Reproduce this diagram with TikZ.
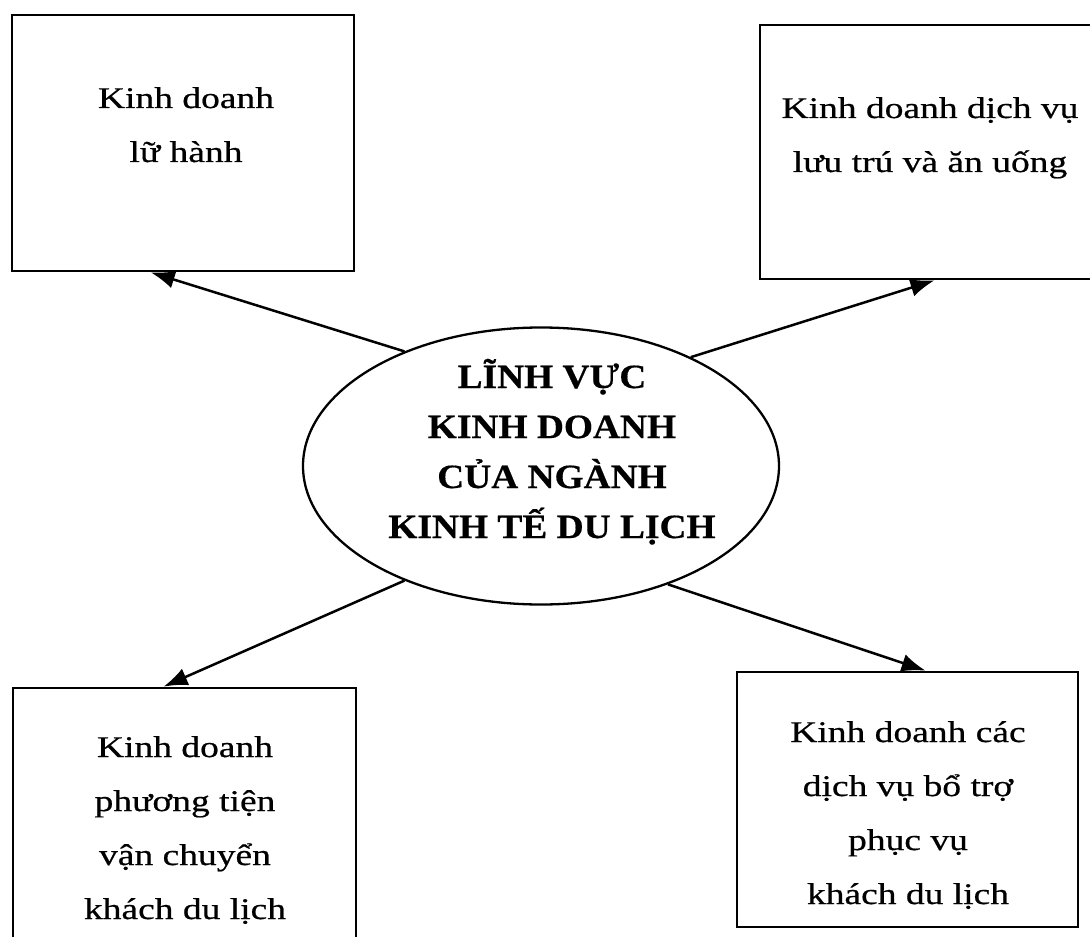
\documentclass[tikz,border=0pt]{standalone}
\usepackage{fontspec}
\setmainfont{Liberation Serif}
\newfontfamily\boxfont[FakeStretch=1.25,FakeBold=0.6]{Liberation Serif}
\newfontfamily\headfont[FakeStretch=1.1,FakeBold=0.4]{Liberation Serif}
\usetikzlibrary{shapes.geometric,arrows.meta}

% centred lines whose baseline is that of the first line
\newcommand\textstack[1]{\begin{tabular}[t]{@{}c@{}}#1\end{tabular}}

\tikzset{
  areabox/.style={draw=black, line width=1.35pt, inner sep=0pt, fill=white},
  hub/.style={ellipse, draw=black, line width=1.15pt, inner sep=0pt,
              minimum width=238pt, minimum height=138.5pt},
  boxtext/.style={anchor=base, inner sep=0pt,
                  font={\boxfont\fontsize{15pt}{27pt}\selectfont}},
  hubtext/.style={anchor=base, inner sep=0pt,
                  font={\headfont\bfseries\fontsize{17pt}{25pt}\selectfont}},
  link/.style={line width=1.25pt, -{Latex[length=12pt,width=9pt]}}
}

\begin{document}
\begin{tikzpicture}[x=0.5pt, y=-0.5pt]
  \useasboundingbox (0,0) rectangle (1090,936);
  \clip (0,0) rectangle (1090,936);
  \fill[white] (0,0) rectangle (1090,936);

  % the four business areas
  \node[areabox, minimum width=171pt, minimum height=128pt]   (tl) at (183,143) {};
  \node[areabox, minimum width=170pt, minimum height=127pt]   (tr) at (930,152) {};
  \node[areabox, minimum width=171.5pt, minimum height=131pt] (bl) at (184.5,819) {};
  \node[areabox, minimum width=170.5pt, minimum height=127.5pt] (br) at (907.5,799.5) {};

  \node[boxtext] (tltext) at (186,108) {\textstack{Kinh doanh\\ lữ hành}};
  \node[boxtext] (trtext) at (930,118) {\textstack{Kinh doanh dịch vụ\\ lưu trú và ăn uống}};
  \node[boxtext] (bltext) at (185,757) {\textstack{Kinh doanh\\ phương tiện\\ vận chuyển\\ khách du lịch}};
  \node[boxtext] (brtext) at (908,742) {\textstack{Kinh doanh các\\ dịch vụ bổ trợ\\ phục vụ\\ khách du lịch}};

  % central field
  \node[hub] (c) at (541,466) {};
  \node[hubtext] (ctext) at (552,388) {\textstack{LĨNH VỰC\\ KINH DOANH\\ CỦA NGÀNH\\ KINH TẾ DU LỊCH}};

  % connectors
  \draw[link] (c.140.4) -- (tl.256.4);
  \draw[link] (c.36.1)  -- (tr.272.3);
  \draw[link] (c.220)   -- (bl.99.3);
  \draw[link] (c.317.6) -- (br.82.2);
\end{tikzpicture}
\end{document}
